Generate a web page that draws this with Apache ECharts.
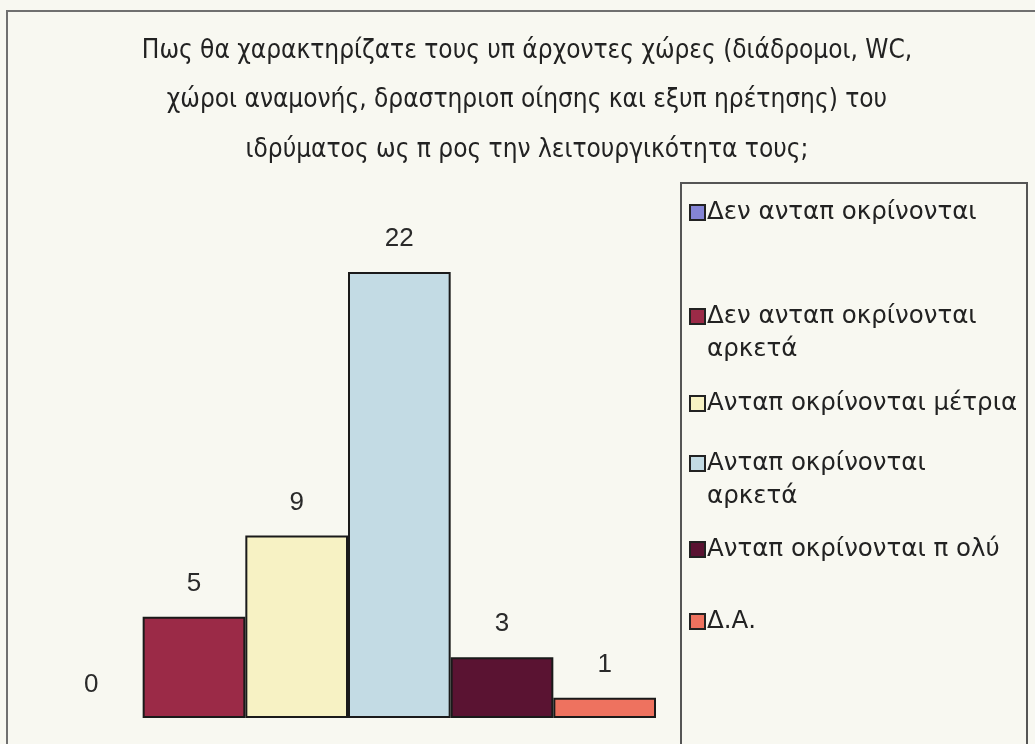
<!DOCTYPE html>
<html>
<head>
<meta charset="utf-8">
<script src="https://cdn.jsdelivr.net/npm/echarts@6/dist/echarts.min.js"></script>
<style>
  html, body { margin: 0; padding: 0; background: #f8f8f1; }
  #chart { width: 1035px; height: 744px; }
</style>
</head>
<body>
<div id="chart"></div>
<script>
// Survey answers: how functional are the existing spaces of the institution
const titleLines = [
  'Πως θα χαρακτηρίζατε τους υπ άρχοντες χώρες (διάδρομοι, WC,',
  'χώροι αναμονής, δραστηριοπ οίησης και εξυπ ηρέτησης) του',
  'ιδρύματος ως π ρος την λειτουργικότητα τους;'
];
const answers = [
  'Δεν ανταπ οκρίνονται',
  'Δεν ανταπ οκρίνονται\nαρκετά',
  'Ανταπ οκρίνονται μέτρια',
  'Ανταπ οκρίνονται\nαρκετά',
  'Ανταπ οκρίνονται π ολύ',
  'Δ.Α.'
];
const counts = [0, 5, 9, 22, 3, 1];
const colors = ['#8585d6', '#9b2a47', '#f7f2c4', '#c3dbe4', '#5a1332', '#ee725f'];
const legendTops = [191, 295, 382, 442, 528, 600];

const chart = echarts.init(document.getElementById('chart'));

const series = answers.map((name, i) => ({
  name: name,
  type: 'bar',
  data: [counts[i]],
  barGap: '0%',
  barCategoryGap: '0%',
  itemStyle: {
    color: colors[i],
    borderColor: '#1a1a1a',
    borderWidth: counts[i] === 0 ? 0 : 2
  },
  label: {
    show: true,
    position: 'top',
    distance: 20,
    fontFamily: 'Liberation Sans',
    fontSize: 26,
    color: '#2a2a2a'
  },
  silent: true
}));

// one legend block per answer; for a two-line answer the marker is a square
// at the top of a taller (empty) box so that it sits beside the first line
const LINE = 33, BOX = 15;
const legends = answers.map((name, i) => {
  const lines = name.split('\n').length;
  const h = BOX + LINE * (lines - 1);
  const icon = lines === 1
    ? 'rect'
    : 'path://M0,0L' + BOX + ',0L' + BOX + ',' + BOX + 'L0,' + BOX + 'ZM0,' + h;
  return {
    data: [name],
    orient: 'vertical',
    left: 684,
    top: legendTops[i],
    icon: icon,
    itemWidth: BOX,
    itemHeight: h,
    itemGap: 0,
    selectedMode: false,
    itemStyle: { borderColor: '#222', borderWidth: 2 },
    textStyle: {
      fontFamily: 'DejaVu Sans',
      fontSize: 24.5,
      lineHeight: LINE,
      color: '#222',
      padding: [0, 0, 0, -3]
    }
  };
});

chart.setOption({
  backgroundColor: '#f8f8f1',
  animation: false,
  title: {
    text: titleLines.join('\n'),
    left: 522,
    top: 21,
    textAlign: 'center',
    textStyle: {
      fontFamily: 'DejaVu Sans Condensed',
      fontWeight: 'normal',
      fontSize: 26,
      lineHeight: 49.5,
      color: '#222'
    }
  },
  graphic: [
    {
      type: 'polyline',
      shape: { points: [[7, 760], [7, 11], [1040, 11]] },
      style: { stroke: '#707070', lineWidth: 2, fill: null },
      silent: true
    },
    {
      type: 'rect',
      shape: { x: 681, y: 183, width: 346, height: 600 },
      style: { stroke: '#555', lineWidth: 2, fill: null },
      silent: true
    }
  ],
  legend: legends,
  grid: { left: 40, top: 272, width: 616, height: 446, containLabel: false },
  xAxis: {
    type: 'category',
    data: [''],
    show: false
  },
  yAxis: {
    type: 'value',
    min: 0,
    max: 22,
    show: false
  },
  series: series
});
</script>
</body>
</html>
